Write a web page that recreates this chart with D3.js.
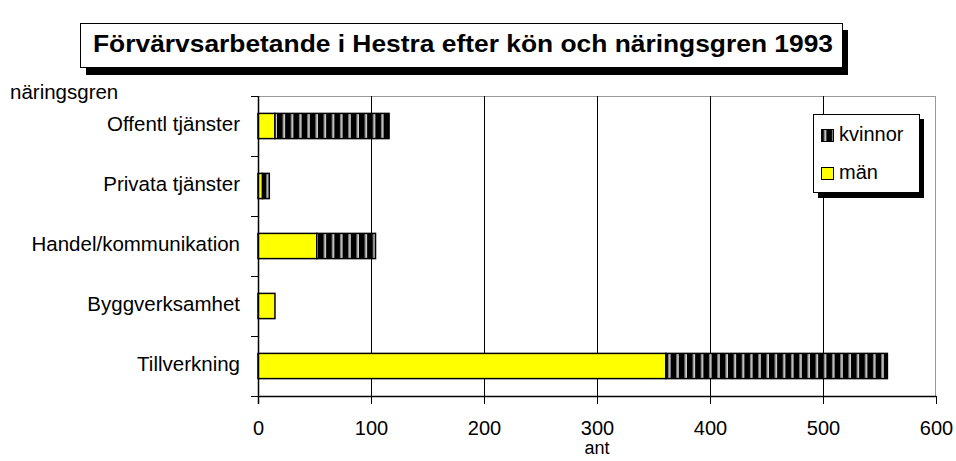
<!DOCTYPE html>
<html><head><meta charset="utf-8">
<script src="https://cdn.jsdelivr.net/npm/d3@7"></script>
<style>body{margin:0;background:#fff}svg{display:block;font-family:"Liberation Sans",Arial,sans-serif}</style>
</head><body><svg id="c" width="956" height="461"></svg>
<script>
const categories = ["Offentl tjänster","Privata tjänster","Handel/kommunikation","Byggverksamhet","Tillverkning"];
const man = [15, 4, 52, 15, 361];
const kvinnor = [101, 6, 52, 0, 196];
const xTicks = [0,100,200,300,400,500,600];
const title = "Förvärvsarbetande i Hestra efter kön och näringsgren 1993";

const svg = d3.select("#c");
const L = 258, R = 936, T = 96, B = 396;
const x = d3.scaleLinear().domain([0,600]).range([L,R]);
const y = d3.scaleBand().domain(categories).range([T,B]).paddingInner(0.58).paddingOuter(0.29);

const defs = svg.append("defs");
const pat = defs.append("pattern").attr("id","stripe").attr("patternUnits","userSpaceOnUse")
  .attr("width",8.2).attr("height",10);
pat.append("rect").attr("width",8.2).attr("height",10).attr("fill","#000");
pat.append("rect").attr("x",4).attr("width",1).attr("height",10).attr("fill","#bbb");
pat.append("rect").attr("x",5).attr("width",1.2).attr("height",10).attr("fill","#fff");

// title box with shadow
svg.append("rect").attr("x",86).attr("y",30).attr("width",762).attr("height",45).attr("fill","#000");
svg.append("rect").attr("x",80.5).attr("y",23.5).attr("width",762).attr("height",44).attr("fill","#fff").attr("stroke","#000");
svg.append("text").attr("x",93).attr("y",46).attr("font-weight","bold")
  .attr("font-size",24).attr("dominant-baseline","middle")
  .attr("textLength",740).attr("lengthAdjust","spacingAndGlyphs").text(title);

// plot border
svg.append("line").attr("x1",L).attr("x2",R).attr("y1",T+0.5).attr("y2",T+0.5).attr("stroke","#999");
svg.append("line").attr("x1",R-0.5).attr("x2",R-0.5).attr("y1",T).attr("y2",B).attr("stroke","#999");

// gridlines
svg.append("g").selectAll("line").data(xTicks.slice(1,-1)).join("line")
  .attr("x1",d=>Math.round(x(d))+0.5).attr("x2",d=>Math.round(x(d))+0.5).attr("y1",T).attr("y2",B).attr("stroke","#000");

// bars
const g = svg.append("g");
categories.forEach((c,i)=>{
  g.append("rect").attr("x",x(0)).attr("y",y(c)).attr("width",x(man[i])-x(0)).attr("height",y.bandwidth())
    .attr("fill","#ffff00").attr("stroke","#000").attr("stroke-width",1.5);
  if(kvinnor[i]>0)
    g.append("rect").attr("x",x(man[i])).attr("y",y(c)).attr("width",x(man[i]+kvinnor[i])-x(man[i])).attr("height",y.bandwidth())
      .attr("fill","url(#stripe)").attr("stroke","#000").attr("stroke-width",1.5);
});

// x axis
const xa = svg.append("g").attr("transform",`translate(0,${B})`)
  .call(d3.axisBottom(x).tickValues(xTicks).tickSize(8).tickPadding(17).tickSizeOuter(0));
xa.select(".domain").attr("stroke","#000").attr("stroke-width",1.5);
xa.selectAll("text").attr("font-size",20).attr("font-family","Liberation Sans, Arial, sans-serif").attr("fill","#000");
xa.selectAll("line").attr("stroke","#000");

// y axis
const yTickPos = d3.range(categories.length+1).map(i=>T+i*(B-T)/categories.length);
svg.append("g").selectAll("line").data(yTickPos).join("line")
  .attr("x1",L-7).attr("x2",L).attr("y1",d=>Math.round(d)+0.5).attr("y2",d=>Math.round(d)+0.5).attr("stroke","#000");
svg.append("line").attr("x1",L+0.5).attr("x2",L+0.5).attr("y1",T).attr("y2",B+8).attr("stroke","#000").attr("stroke-width",1.5);
svg.append("g").selectAll("text").data(categories).join("text")
  .attr("x",240).attr("y",c=>y(c)+y.bandwidth()/2).attr("text-anchor","end").attr("dominant-baseline","middle")
  .attr("font-size",20.5).text(c=>c);

svg.append("text").attr("x",10).attr("y",94).attr("dominant-baseline","middle").attr("font-size",20.5).text("näringsgren");
svg.append("text").attr("x",x(300)).attr("y",449).attr("text-anchor","middle").attr("dominant-baseline","middle").attr("font-size",18).text("ant");

// legend
svg.append("rect").attr("x",818).attr("y",119).attr("width",106).attr("height",79).attr("fill","#000");
svg.append("rect").attr("x",813.5).attr("y",114.5).attr("width",106).attr("height",78).attr("fill","#fff").attr("stroke","#000");
const leg = [["kvinnor","url(#stripe)",136],["män","#ffff00",174]];
leg.forEach(([t,f,yy])=>{
  svg.append("rect").attr("x",821.5).attr("y",yy-6.5).attr("width",12).attr("height",12).attr("fill",f).attr("stroke","#000");
  svg.append("text").attr("x",839).attr("y",yy).attr("dominant-baseline","middle").attr("font-size",20).text(t);
});
</script></body></html>
